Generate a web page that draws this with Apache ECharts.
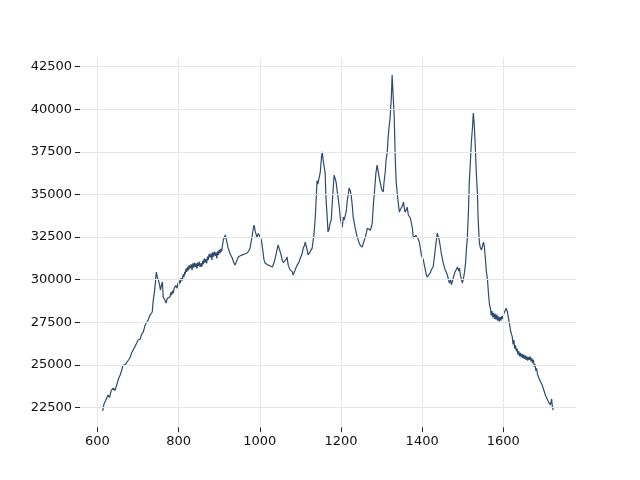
<!DOCTYPE html>
<html>
<head>
<meta charset="utf-8">
<script src="https://cdn.jsdelivr.net/npm/echarts@6/dist/echarts.min.js"></script>
<style>html,body{margin:0;padding:0;background:#fff}#c{width:640px;height:480px}</style>
</head>
<body>
<div id="c"></div>
<script>
const xTicks = [600, 800, 1000, 1200, 1400, 1600];
const yTicks = [22500, 25000, 27500, 30000, 32500, 35000, 37500, 40000, 42500];

const xVals = [
613,616,620,626,630,634,639,643,649,652,656,660,663,668,673,677,681,684,688,693,697,700,705,709,713,717,721,725,729,733,735,737,740,743,745,748,750,753,755,758,760,762,766,769,772,774,
779,781,783,785,787,789,791,793,796,798,800,802,804,806,809,811,813,815,816,818,820,822,824,826,828,831,833,835,837,839,841,843,845,847,849,851,853,855,857,859,861,863,865,867,869,871,873,875,878,880,882,884,886,888,890,892,894,896,898,900,902,904,906,908,910,
913,915,918,922,927,932,936,939,943,947,952,957,962,966,969,973,976,980,984,986,989,993,996,1001,1004,1008,1010,1013,
1017,1021,1026,1031,1035,1038,1042,1045,1048,1050,1053,1055,1058,1062,1065,1067,1070,1074,1077,1080,1082,1086,1089,1092,1096,1100,1104,1107,1110,1112,1116,1119,1123,1126,1129,1132,1134,1137,
1139,1141,1143,1146,1149,1152,1154,1156,1158,1161,1163,1166,1168,1171,1173,1176,1178,1181,1183,1186,1188,1190,1193,1196,1198,1201,1203,1206,1208,1211,1213,1215,1218,1220,1223,1225,1228,1230,1233,1235,1238,1240,1244,1247,1250,1252,1256,1260,1263,1265,1268,1272,1275,1277,1280,1283,1286,1289,1292,1294,1297,1300,1302,1304,1306,1309,1311,1314,1316,1319,1321,1324,1326,1328,1331,1334,1336,1339,1342,1344,1346,1349,1351,1354,1356,1358,1361,1363,1366,1368,1371,1373,1376,1378,1381,1384,1388,1390,1393,1395,1398,1400,1403,1405,1408,1410,1412,1415,1420,1423,1427,1430,1432,1435,1437,1440,1442,1445,1447,1450,1452,1455,1457,1460,1462,1465,1467,1470,1472,1474,1477,1480,1484,1487,1490,1492,1494,1497,1499,1502,1504,1507,1509,1511,1514,1516,1519,1521,1524,1526,1528,1531,1533,1536,1538,1541,1543,1546,1549,1551,1553,1556,1558,1561,
1564,1566,1568,1570,1572,1574,1576,1578,1580,1582,1584,1586,1588,1590,1592,1594,1596,1598,1601,1604,1607,1610,1613,1615,1618,1620,
1622,1624,1626,1628,1630,1632,1634,1636,1638,1640,1642,1644,1646,1648,1650,1652,1654,1656,1658,1660,1662,1664,1666,1668,1670,1672,1674,1676,1678,1680,1682,1684,1686,1688,1690,1692,1694,1696,1698,1700,1702,1704,1706,1708,1710,1712,1714,1716,1718,1719,1721,1723
];
const yVals = [
22300,22700,22900,23230,23100,23500,23640,23500,23940,24200,24410,24700,24990,25000,25170,25300,25460,25700,25870,26100,26300,26460,26500,26800,26930,27300,27500,27630,27900,28000,28100,28700,29210,29900,30440,30100,29980,29700,29390,29700,29860,28980,28800,28630,28900,28920,
29000,29250,29100,29350,29210,29500,29390,29650,29500,29800,29650,29950,29800,30100,29950,30300,30150,30450,30300,30650,30450,30750,30550,30850,30650,30900,30550,30950,30700,31000,30750,30950,30650,31000,30800,31050,30750,30950,30750,31100,30900,31250,31000,31200,30950,31350,31150,31500,31300,31550,31150,31600,31350,31650,31400,31600,31250,31650,31450,31750,31550,31800,31650,32000,32320,
32500,32620,32300,31850,31500,31270,31000,30850,31100,31330,31400,31450,31500,31400,31560,31700,31850,32400,33000,33200,32800,32500,32700,32500,32300,31620,31200,30970,
30900,30850,30800,30740,31000,31270,31700,32030,31800,31850,31400,31150,31000,30970,31200,31330,30850,30600,30500,30450,30270,30500,30700,30850,31000,31270,31500,31850,32000,32200,31800,31450,31600,31700,31850,32400,32790,33790,
34800,35800,35600,35500,36300,37200,37500,37000,36700,36250,34800,33670,32790,33000,33300,33500,34300,35430,36130,35900,35720,35300,34780,34200,33670,33300,33080,33670,33500,33610,34000,34550,35000,35370,35200,34960,34300,33670,33300,33020,32700,32500,32200,32030,31950,31910,32200,32500,32800,33020,32950,32900,33100,33320,34490,35300,36250,36720,36300,36000,35660,35300,35250,35140,35700,36310,37000,37480,38300,39070,39500,40650,42000,41000,39660,36900,35720,34960,34300,33960,34100,34080,34300,34550,34200,33960,34100,34250,33790,33900,33600,33500,33000,32440,32500,32600,32620,32400,32200,32150,31450,31330,31150,30900,30560,30300,30150,30250,30390,30600,30740,31300,31740,32300,32730,32500,32320,31900,31560,31200,30970,30700,30560,30400,30270,30000,29800,30000,29700,29860,30150,30400,30600,30740,30500,30680,30300,29980,29800,30100,30390,31000,31800,32320,34000,35660,37000,38000,38950,39770,39200,37780,36500,35080,33500,32150,31900,31740,32000,32200,32000,31150,30500,29980,
28980,28500,28340,27900,28150,27800,28050,27700,28000,27650,27950,27600,27850,27550,27800,27600,27850,27700,28000,28100,28320,28100,27700,27400,27000,26800,
26640,26200,26450,25950,26150,25800,25950,25600,25800,25500,25700,25450,25650,25400,25600,25350,25550,25300,25500,25250,25450,25300,25500,25200,25400,25100,25300,24900,25050,24650,24800,24450,24550,24200,24300,24000,24100,23800,23700,23500,23550,23200,23300,23000,23100,22800,22900,22650,22550,23000,22500,22350
];

const chart = echarts.init(document.getElementById('c'), null, {renderer: 'canvas'});
const font = 'DejaVu Sans';
const gridColor = '#e6e6e6';
const axisCommon = {
  type: 'value',
  axisLine: {show: false},
  axisTick: {show: true, length: 5, lineStyle: {color: '#222', width: 1}},
  axisLabel: {color: '#111', fontSize: 13, fontFamily: font, margin: 8, formatter: v => String(v)},
  splitLine: {show: false}
};
chart.setOption({
  animation: false,
  backgroundColor: '#fff',
  grid: {left: 80, right: 64, top: 57.6, bottom: 52.8, containLabel: false},
  xAxis: Object.assign({}, axisCommon, {
    min: 557, max: 1779, minInterval: 200, maxInterval: 200,
    axisTick: Object.assign({}, axisCommon.axisTick, {customValues: xTicks}),
    axisLabel: Object.assign({}, axisCommon.axisLabel, {customValues: xTicks})
  }),
  yAxis: Object.assign({}, axisCommon, {
    min: 21345, max: 43022, minInterval: 2500, maxInterval: 2500,
    axisTick: Object.assign({}, axisCommon.axisTick, {customValues: yTicks}),
    axisLabel: Object.assign({}, axisCommon.axisLabel, {customValues: yTicks})
  }),
  series: [{
    type: 'line',
    z: 1,
    data: [],
    silent: true,
    markLine: {
      silent: true,
      symbol: ['none', 'none'],
      label: {show: false},
      lineStyle: {color: gridColor, width: 1, type: 'solid'},
      data: xTicks.map(v => ({xAxis: v})).concat(yTicks.map(v => ({yAxis: v})))
    }
  }, {
    type: 'line',
    z: 3,
    data: xVals.map((x, i) => [x, yVals[i]]),
    showSymbol: false,
    symbol: 'none',
    lineStyle: {color: '#2e4b6e', width: 1.2},
    itemStyle: {color: '#2e4b6e'}
  }]
});
</script>
</body>
</html>
